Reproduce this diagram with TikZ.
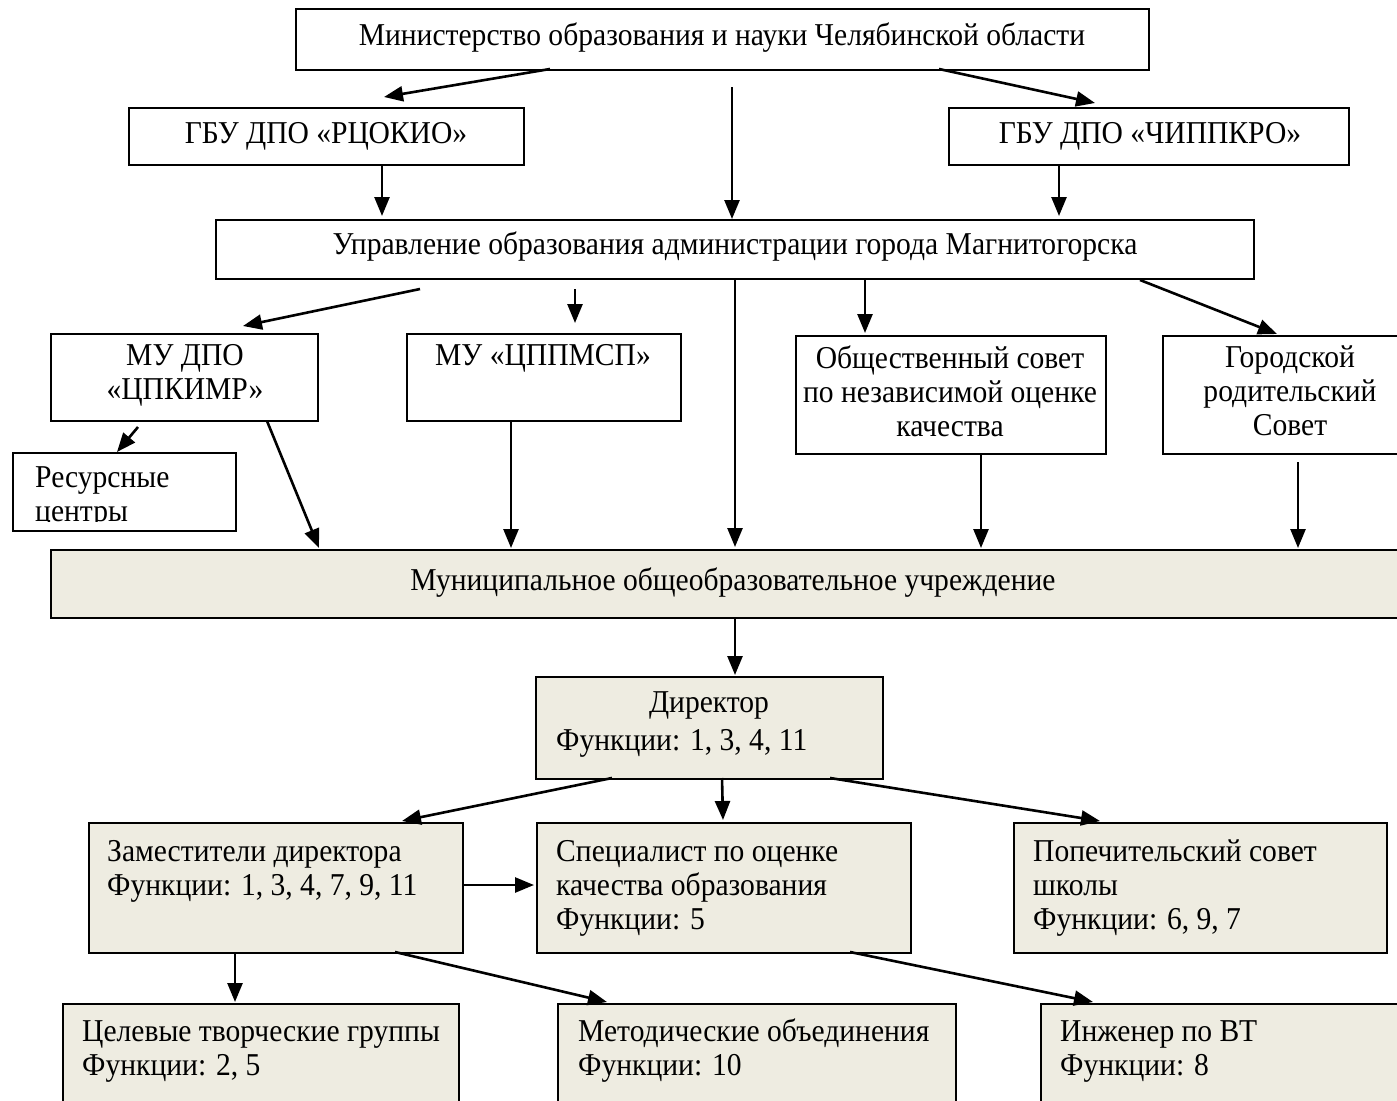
\documentclass[tikz,border=0pt]{standalone}
\usepackage{fontspec}
\setmainfont[FakeStretch=0.93]{Liberation Serif}
\usetikzlibrary{arrows.meta}
\definecolor{tan}{HTML}{EEECE1}
\tikzset{
  box/.style={draw=black, line width=2pt, inner sep=0pt, anchor=north west},
  tanbox/.style={box, fill=tan},
  txt/.style={inner sep=0pt, font=\fontsize{31.8}{34}\selectfont},
  ltxt/.style={txt, anchor=base west},
  arr/.style={line width=2.6pt, -{Triangle[length=19pt, width=15pt]}},
}
\newcommand{\bx}[6]{\node[#1, minimum width=#5-#3, minimum height=#6-#4] (#2) at (#3,#4) {};}
\newcommand{\lns}[1]{\begin{tabular}[t]{@{}l@{}}#1\end{tabular}}
\begin{document}
\begin{tikzpicture}[x=1pt,y=-1pt]
\useasboundingbox (0,0) rectangle (1397,1100);
% boxes
\bx{box}{min}{295}{8}{1148}{69}
\bx{box}{rc}{128}{107}{523}{164}
\bx{box}{ch}{948}{107}{1348}{164}
\bx{box}{up}{215}{219}{1253}{278}
\bx{box}{cp}{50}{333}{317}{420}
\bx{box}{cm}{406}{333}{680}{420}
\bx{box}{ob}{795}{335}{1105}{453}
\bx{box}{gr}{1162}{335}{1420}{453}
\bx{box}{rs}{12}{452}{235}{530}
\bx{tanbox}{mu}{50}{549}{1420}{617}
\bx{tanbox}{di}{535}{676}{882}{778}
\bx{tanbox}{za}{88}{822}{462}{952}
\bx{tanbox}{sp}{536}{822}{910}{952}
\bx{tanbox}{po}{1013}{822}{1386}{952}
\bx{tanbox}{ce}{62}{1003}{458}{1120}
\bx{tanbox}{me}{557}{1003}{955}{1120}
\bx{tanbox}{in}{1040}{1003}{1420}{1120}
% texts
\node[txt] (mint) at (722,38) {Министерство образования и науки Челябинской области};
\node[txt] (rct) at (326,136) {ГБУ ДПО «РЦОКИО»};
\node[txt] (cht) at (1150,136) {ГБУ ДПО «ЧИППКРО»};
\node[txt] (upt) at (735,247) {Управление образования администрации города Магнитогорска};
\node[txt, align=center] (cpt) at (185,375) {МУ ДПО\\«ЦПКИМР»};
\node[txt] (cmt) at (543,358) {МУ «ЦППМСП»};
\node[txt, align=center] (obt) at (950,391) {Общественный совет\\по независимой оценке\\качества};
\node[txt, align=center] (grt) at (1290,391) {Городской\\родительский\\Совет};
\begin{scope}
\clip (14,454) rectangle (233,521);
\node[ltxt] (rst) at (35,487) {\lns{Ресурсные\\центры}};
\end{scope}
\node[txt] (mut) at (733,583) {Муниципальное общеобразовательное учреждение};
\node[txt] (dit) at (709,705) {Директор};
\node[ltxt] (dif) at (556,750) {Функции: 1, 3, 4, 11};
\node[ltxt] (zat) at (107,861) {\lns{Заместители директора\\Функции: 1, 3, 4, 7, 9, 11}};
\node[ltxt] (spt) at (556,861) {\lns{Специалист по оценке\\качества образования\\Функции: 5}};
\node[ltxt] (pot) at (1033,861) {\lns{Попечительский совет\\школы\\Функции: 6, 9, 7}};
\node[ltxt] (cet) at (82,1041) {\lns{Целевые творческие группы\\Функции: 2, 5}};
\node[ltxt] (met) at (578,1041) {\lns{Методические объединения\\Функции: 10}};
\node[ltxt] (int) at (1060,1041) {\lns{Инженер по ВТ\\Функции: 8}};
% connectors
\coordinate (a1) at (550,69);  \coordinate (a1e) at (384,97);
\coordinate (a2) at (939,69);  \coordinate (a2e) at (1095,103);
\coordinate (a3) at (732,87);
\draw[arr] (a1) -- (a1e);
\draw[arr] (a2) -- (a2e);
\draw[arr] (a3) -- (a3 |- up.north);
\draw[arr] (382,164) -- (382,216);
\draw[arr] (1059,164) -- (1059,216);
\coordinate (b1) at (420,289); \coordinate (b1e) at (243,326);
\draw[arr] (b1) -- (b1e);
\draw[arr] (575,289) -- (575,323);
\draw[arr] (735,278) -- (735,547);
\draw[arr] (865,278) -- (865,333);
\draw[arr] (1140,280) -- (1277,334);
\draw[arr] (138,427) -- (117,452);
\draw[arr] (267,421) -- (319,548);
\draw[arr] (511,420) -- (511,548);
\draw[arr] (981,453) -- (981,548);
\draw[arr] (1298,462) -- (1298,548);
\draw[arr] (735,617) -- (735,675);
\draw[arr] (612,778) -- (402,821);
\draw[arr] (722,778) -- (723,820);
\draw[arr] (830,778) -- (1100,821);
\draw[arr] (462,885) -- (534,885);
\draw[arr] (235,952) -- (235,1002);
\draw[arr] (395,952) -- (607,1002);
\draw[arr] (850,952) -- (1093,1002);
\end{tikzpicture}
\end{document}
